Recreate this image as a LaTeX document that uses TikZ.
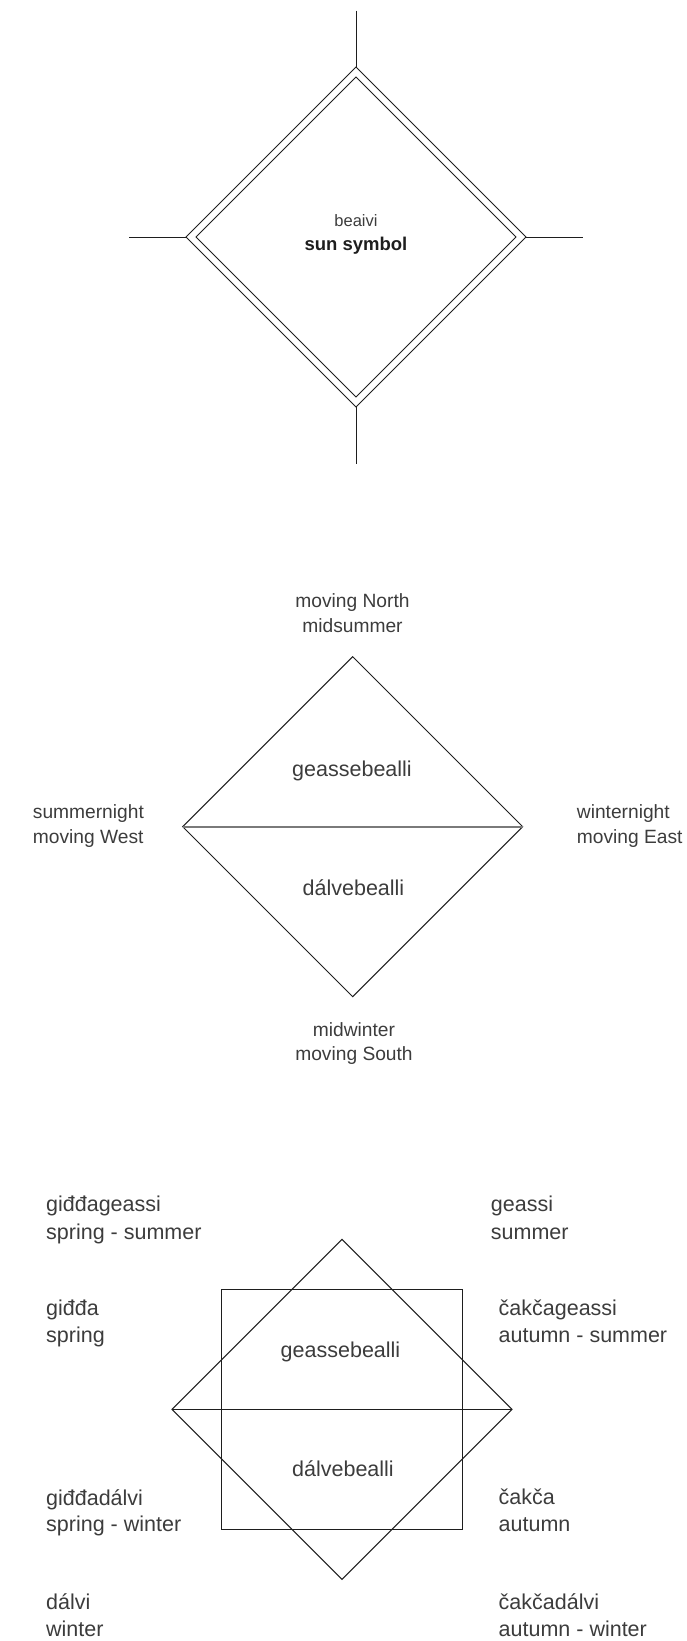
\documentclass[tikz,border=0pt]{standalone}
\usepackage{fontspec}
\setmainfont{Liberation Sans}
\definecolor{ink}{HTML}{1E1E1E}
\definecolor{txt}{HTML}{3C3C3C}
\definecolor{midline}{HTML}{7A7A7A}
\begin{document}
\begin{tikzpicture}[x=1pt,y=-1pt,
  edge/.style={draw=ink,line width=1pt,line join=miter},
  lbl/.style={text=txt,inner sep=0pt,font=\fontsize{19.2}{23}\selectfont},
  big/.style={text=txt,inner sep=0pt,font=\fontsize{21.5}{26}\selectfont},
  sunlbl/.style={text=txt,inner sep=0pt,font=\fontsize{16.5}{20}\selectfont},
  sunbold/.style={text=ink,inner sep=0pt,font=\fontsize{18.5}{22}\selectfont\bfseries}]
\useasboundingbox (0,0) rectangle (686,1641);

% ---------- sun symbol: double diamond with four rays ----------
\coordinate (sc) at (356,237);
\coordinate (oT) at (356,67);  \coordinate (oB) at (356,407);
\coordinate (oL) at (186,237); \coordinate (oR) at (526,237);
\coordinate (iT) at (356,77);  \coordinate (iB) at (356,397);
\coordinate (iL) at (196,237); \coordinate (iR) at (516,237);
\coordinate (rT) at (356,10.5); \coordinate (rB) at (356,463.5);
\coordinate (rL) at (129,237);  \coordinate (rR) at (583,237);
\draw[edge] (oT) -- (oR) -- (oB) -- (oL) -- cycle;
\draw[edge] (iT) -- (iR) -- (iB) -- (iL) -- cycle;
\draw[edge] (rT) -- (oT);
\draw[edge] (oB) -- (rB);
\draw[edge] (rL) -- (oL);
\draw[edge] (oR) -- (rR);
\node[sunlbl,anchor=base] (beaivi) at (356,226.7) {beaivi};
\node[sunbold,anchor=base] (sun) at (356,250.7) {sun symbol};

% ---------- day and night diamond ----------
\coordinate (mT) at (352.7,656.7); \coordinate (mB) at (352.7,996.7);
\coordinate (mL) at (182.7,826.7); \coordinate (mR) at (522.7,826.7);
\draw[edge] (mT) -- (mR) -- (mB) -- (mL) -- cycle;
\draw[draw=midline,line width=1.6pt] (mL) -- (mR);
\node[big,anchor=base] (mGeas) at (352,776) {geassebealli};
\node[big,anchor=base] (mDalv) at (353.5,895) {dálvebealli};
\node[lbl,anchor=base] (nA) at (352.5,607) {moving North};
\node[lbl,anchor=base] (nB) at (352.5,632) {midsummer};
\node[lbl,anchor=base west] (wA) at (32.7,818) {summernight};
\node[lbl,anchor=base west] (wB) at (32.7,843) {moving West};
\node[lbl,anchor=base west] (eA) at (576.7,818) {winternight};
\node[lbl,anchor=base west] (eB) at (576.7,843) {moving East};
\node[lbl,anchor=base] (sA) at (354,1036) {midwinter};
\node[lbl,anchor=base] (sB) at (354,1060) {moving South};

% ---------- seasons: diamond over square ----------
\coordinate (qTL) at (221.7,1289.3); \coordinate (qBR) at (462.3,1529.3);
\coordinate (dT) at (342,1239.3); \coordinate (dB) at (342,1579.3);
\coordinate (dL) at (172,1409.3); \coordinate (dR) at (512,1409.3);
\draw[edge] (qTL) rectangle (qBR);
\draw[edge] (dT) -- (dR) -- (dB) -- (dL) -- cycle;
\draw[edge] (dL) -- (dR);
\node[big,anchor=base] (bGeas) at (340.5,1357) {geassebealli};
\node[big,anchor=base] (bDalv) at (343,1476.7) {dálvebealli};

\node[big,anchor=base west] (gsA) at (46,1211.7) {giđđageassi};
\node[big,anchor=base west] (gsB) at (46,1239.3) {spring - summer};
\node[big,anchor=base west] (gA)  at (46,1315)   {giđđa};
\node[big,anchor=base west] (gB)  at (46,1342.7) {spring};
\node[big,anchor=base west] (gdA) at (46,1505)   {giđđadálvi};
\node[big,anchor=base west] (gdB) at (46,1531.7) {spring - winter};
\node[big,anchor=base west] (dA)  at (46,1609)   {dálvi};
\node[big,anchor=base west] (dB)  at (46,1636.5) {winter};

\node[big,anchor=base west] (geA) at (490.7,1211.7) {geassi};
\node[big,anchor=base west] (geB) at (490.7,1239.3) {summer};
\node[big,anchor=base west] (cgA) at (498.5,1315)   {čakčageassi};
\node[big,anchor=base west] (cgB) at (498.5,1342.7) {autumn - summer};
\node[big,anchor=base west] (cA)  at (498.5,1504)   {čakča};
\node[big,anchor=base west] (cB)  at (498.5,1531)   {autumn};
\node[big,anchor=base west] (cdA) at (498.5,1609)   {čakčadálvi};
\node[big,anchor=base west] (cdB) at (498.5,1636.5) {autumn - winter};
\end{tikzpicture}
\end{document}
